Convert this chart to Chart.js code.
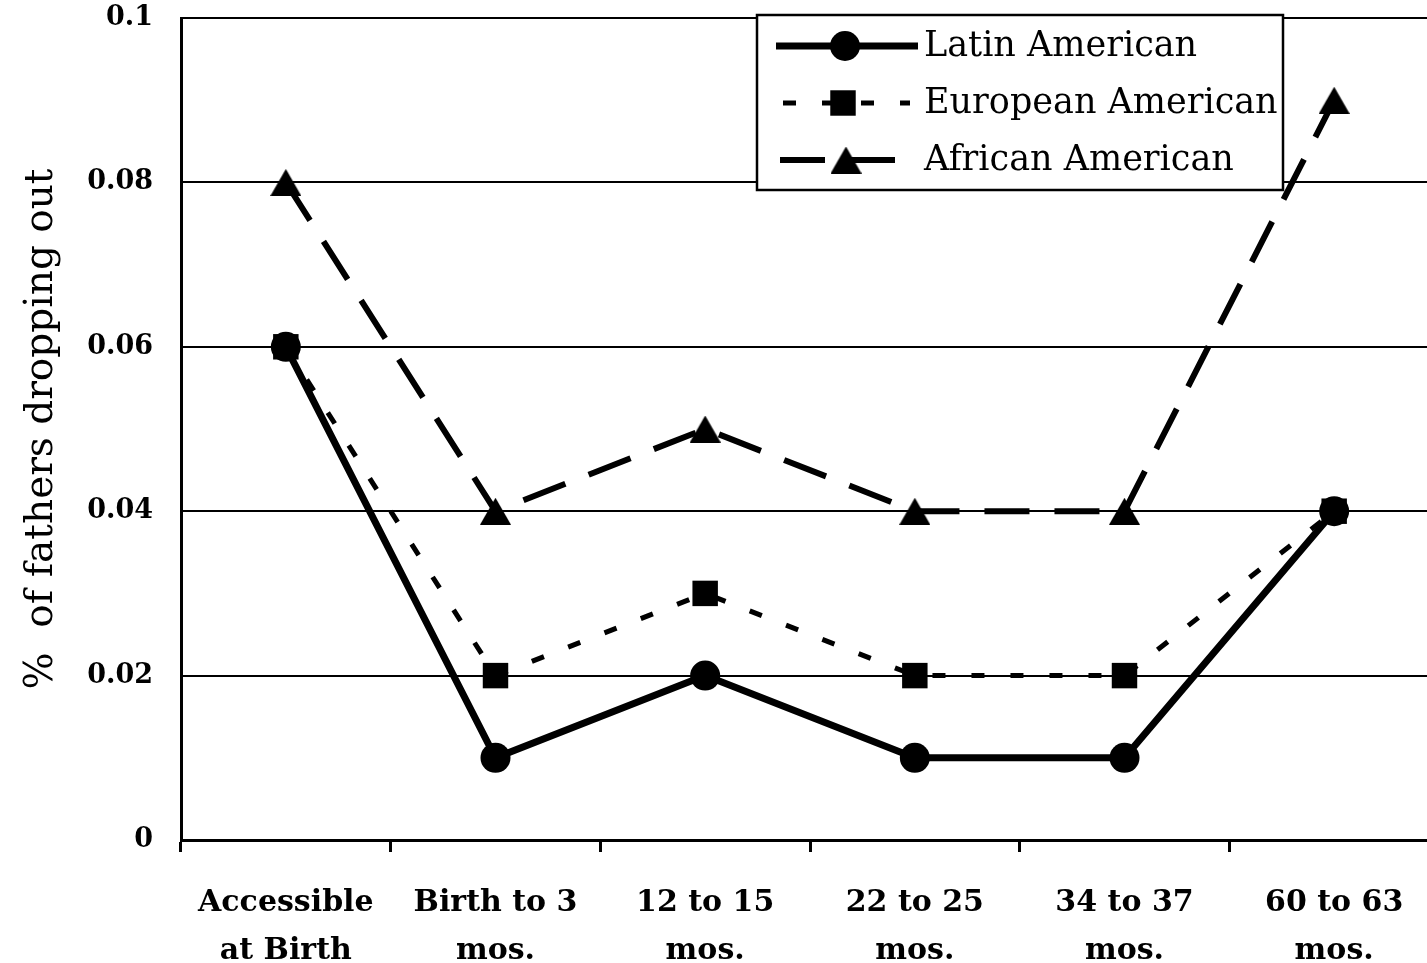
<!DOCTYPE html>
<html>
<head>
<meta charset="utf-8">
<script src="https://cdn.jsdelivr.net/npm/chart.js@4/dist/chart.umd.min.js"></script>
<style>
  html, body { margin: 0; padding: 0; background: #fff; overflow: hidden; width: 1427px; height: 963px; }
  canvas { display: block; }
</style>
</head>
<body>
<canvas id="c" width="1457" height="963"></canvas>
<script>
const categories = [
  ["Accessible", "at Birth"],
  ["Birth to 3", "mos."],
  ["12 to 15", "mos."],
  ["22 to 25", "mos."],
  ["34 to 37", "mos."],
  ["60 to 63", "mos."]
];
const seriesNames = ["Latin American", "European American", "African American"];
const latinAmerican    = [0.06, 0.01, 0.02, 0.01, 0.01, 0.04];
const europeanAmerican = [0.06, 0.02, 0.03, 0.02, 0.02, 0.04];
const africanAmerican  = [0.08, 0.04, 0.05, 0.04, 0.04, 0.09];
const yTicks = [0, 0.02, 0.04, 0.06, 0.08, 0.1];
const yTickLabels = ["0", "0.02", "0.04", "0.06", "0.08", "0.1"];
const yTitle = "%  of fathers dropping out";

const SERIF = "'Palatino Linotype', 'Book Antiqua', Palatino, 'DejaVu Serif', serif";

// centered triangle marker
function makeTriangle(w, h) {
  const cv = document.createElement('canvas');
  cv.width = w; cv.height = h;
  const g = cv.getContext('2d');
  g.fillStyle = '#000';
  g.beginPath();
  g.moveTo(w / 2, 0);
  g.lineTo(w, h);
  g.lineTo(0, h);
  g.closePath();
  g.fill();
  return cv;
}
const triangle = makeTriangle(31, 27);

const legendPlugin = {
  id: 'boxLegend',
  afterDraw(chart) {
    const ctx = chart.ctx;
    const box = { x: 757, y: 15, w: 526, h: 175 };
    ctx.save();
    ctx.fillStyle = '#fff';
    ctx.fillRect(box.x, box.y, box.w, box.h);
    ctx.lineWidth = 2.5;
    ctx.strokeStyle = '#000';
    ctx.strokeRect(box.x, box.y, box.w, box.h);
    const rows = [
      { y: 46, x0: 776, x1: 918, mx: 845 },
      { y: 103, x0: 781, x1: 910, mx: 843 },
      { y: 160, x0: 780, x1: 898, mx: 846 }
    ];
    chart.data.datasets.forEach((ds, i) => {
      const r = rows[i];
      ctx.save();
      ctx.strokeStyle = ds.borderColor;
      ctx.lineWidth = ds.borderWidth;
      ctx.setLineDash(ds.borderDash || []);
      if (i === 1) ctx.lineDashOffset = -2;
      ctx.beginPath();
      ctx.moveTo(r.x0, r.y);
      ctx.lineTo(r.x1, r.y);
      ctx.stroke();
      ctx.restore();
      ctx.save();
      ctx.fillStyle = '#000';
      Chart.helpers.drawPoint(ctx, {
        pointStyle: ds.pointStyle,
        radius: ds.pointRadius,
        rotation: 0,
        borderWidth: 0
      }, r.mx, r.y);
      ctx.restore();
      ctx.fillStyle = '#000';
      ctx.font = "35px " + SERIF;
      ctx.textBaseline = 'middle';
      ctx.textAlign = 'left';
      ctx.fillText(ds.label, 924, r.y + 1);
    });
    ctx.restore();
  }
};

new Chart(document.getElementById('c'), {
  type: 'line',
  data: {
    labels: categories,
    datasets: [
      {
        label: seriesNames[0],
        data: latinAmerican,
        borderColor: '#000',
        backgroundColor: '#000',
        borderWidth: 7,
        pointStyle: 'circle',
        pointRadius: 15,
        pointBorderWidth: 0,
        pointBackgroundColor: '#000',
        tension: 0
      },
      {
        label: seriesNames[1],
        data: europeanAmerican,
        borderColor: '#000',
        backgroundColor: '#000',
        borderWidth: 5,
        borderDash: [13, 26],
        pointStyle: 'rect',
        pointRadius: 18,
        pointBorderWidth: 0,
        pointBackgroundColor: '#000',
        tension: 0
      },
      {
        label: seriesNames[2],
        data: africanAmerican,
        borderColor: '#000',
        backgroundColor: '#000',
        borderWidth: 6,
        borderDash: [45, 25],
        pointStyle: triangle,
        pointRadius: 16,
        pointBorderWidth: 0,
        pointBackgroundColor: '#000',
        tension: 0
      }
    ]
  },
  options: {
    responsive: false,
    animation: false,
    devicePixelRatio: 1,
    layout: { padding: { left: 0, right: 8, top: 18, bottom: 0 } },
    plugins: {
      legend: { display: false },
      tooltip: { enabled: false }
    },
    scales: {
      x: {
        type: 'category',
        offset: true,
        grid: {
          offset: true,
          drawOnChartArea: false,
          drawTicks: true,
          tickLength: 12,
          tickWidth: 3,
          color: '#000'
        },
        border: { display: true, color: '#000', width: 3 },
        ticks: {
          color: '#000',
          padding: 27,
          maxRotation: 0,
          autoSkip: false,
          font: { family: SERIF, size: 30, weight: 'bold', lineHeight: 1.6 }
        },
        afterFit(scale) { scale.height = 123; }
      },
      y: {
        min: 0,
        max: 0.1,
        afterBuildTicks(scale) { scale.ticks = yTicks.map(v => ({ value: v })); },
        grid: {
          drawTicks: false,
          color: '#000',
          lineWidth: 2
        },
        border: { display: true, color: '#000', width: 3 },
        ticks: {
          color: '#000',
          padding: 28,
          font: { family: SERIF, size: 27, weight: 'bold' },
          callback(value) {
            const i = yTicks.findIndex(t => Math.abs(t - value) < 1e-9);
            return i >= 0 ? yTickLabels[i] : '';
          }
        },
        title: {
          display: true,
          text: yTitle,
          color: '#000',
          font: { family: SERIF, size: 39, weight: 'normal' },
          padding: { top: 18, bottom: 0 }
        },
        afterFit(scale) {
          scale.width = 181;
          scale.paddingTop = 0;
          scale.paddingBottom = 0;
        }
      }
    }
  },
  plugins: [legendPlugin]
});
</script>
</body>
</html>
